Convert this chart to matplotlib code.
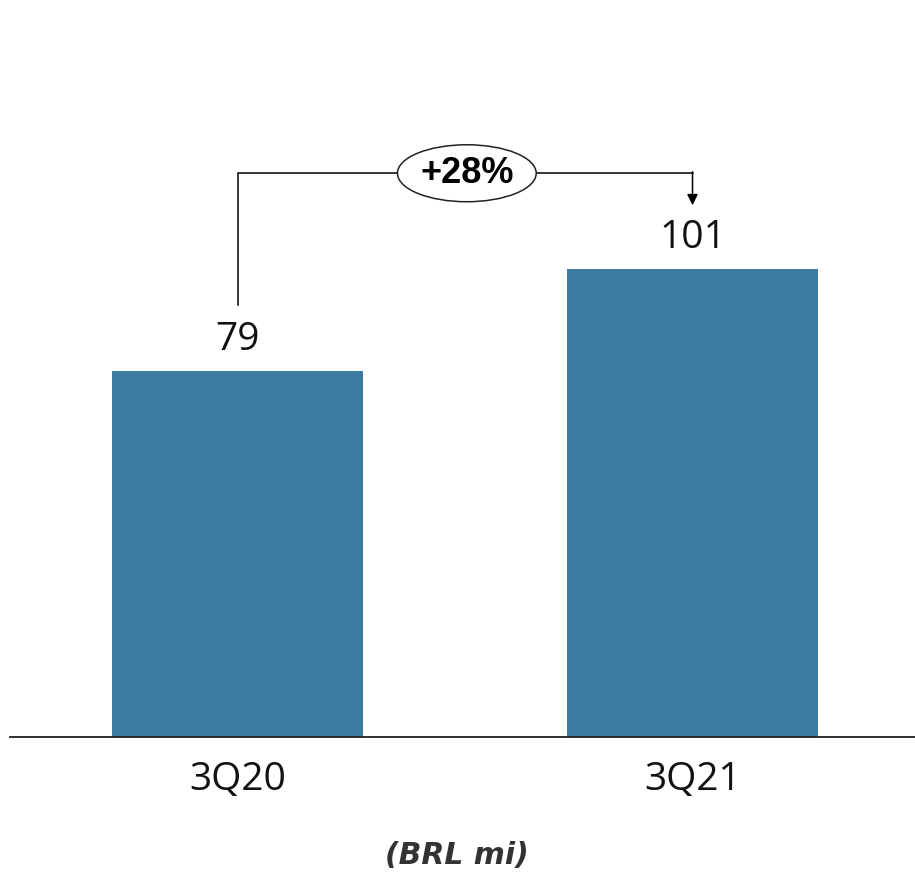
import matplotlib
matplotlib.use('Agg')
import matplotlib.pyplot as plt
from matplotlib.patches import Ellipse

# 数据
categories = ['3Q20', '3Q21']
values = [79, 101]
growth_label = '+28%'
unit_label = '(BRL mi)'

plt.rcParams['font.family'] = ['Open Sans', 'DejaVu Sans']

fig = plt.figure(figsize=(9.15, 8.73), dpi=100)
ax = fig.add_axes([10 / 915, 1 - 737 / 873, 905 / 915, 737 / 873])

x = list(range(len(categories)))
ax.bar(x, values, width=0.552, color='#3D7CA0')
ax.set_xlim(-0.5, 1.489)
ax.set_ylim(0, 159.1)

# 数值标签
for xi, v in zip(x, values):
    ax.annotate(str(v), (xi, v), xytext=(0, 9), textcoords='offset points',
                ha='center', va='bottom', fontsize=28, color='#111111')

# 坐标轴
for s in ['top', 'right', 'left']:
    ax.spines[s].set_visible(False)
ax.spines['bottom'].set_color('#222222')
ax.spines['bottom'].set_linewidth(1.3)
ax.set_yticks([])
ax.set_xticks(x)
ax.set_xticklabels(categories, fontsize=28, color='#111111')
ax.tick_params(axis='x', length=0, pad=17)

# 增长箭头
y_low = values[0] + 14.2
y_top = values[1] + 20.7
y_tip = values[1] + 13.8
ax.plot([x[0], x[0], x[1]], [y_low, y_top, y_top], color='black', lw=1.1,
        solid_joinstyle='miter')
ax.annotate('', xy=(x[1], y_tip), xytext=(x[1], y_top + 0.3),
            arrowprops=dict(arrowstyle='-|>', color='black', lw=1.1,
                            mutation_scale=16, shrinkA=0, shrinkB=0))
cx = 0.504
ax.add_patch(Ellipse((cx, y_top), 0.305, 12.3, facecolor='white',
                     edgecolor='#222222', lw=1.1, zorder=3))
ax.text(cx, y_top, growth_label, ha='center', va='center', fontsize=26,
        fontweight='bold', color='black', family=['Liberation Sans', 'DejaVu Sans'],
        zorder=4)

fig.text(457 / 915, 1 - 855 / 873, unit_label, ha='center', va='center',
         fontsize=21.5, fontweight='bold', fontstyle='italic', color='#333333',
         family=['DejaVu Sans'])

fig.savefig('out.png', dpi=100)
